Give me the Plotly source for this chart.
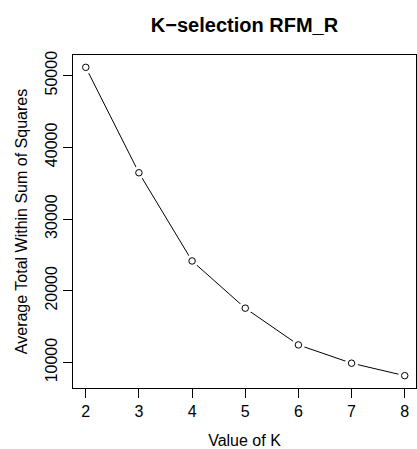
import plotly.graph_objects as go

# Elbow curve for k-means on the RFM_R data
k_values = [2, 3, 4, 5, 6, 7, 8]
avg_wss = [51150, 36450, 24150, 17570, 12450, 9900, 8160]
y_ticks = [10000, 20000, 30000, 40000, 50000]
x_ticks = [2, 3, 4, 5, 6, 7, 8]

title_text = "K\u2212selection RFM_R"
x_title = "Value of K"
y_title = "Average Total Within Sum of Squares"

FONT = "Liberation Sans, Arial, Helvetica, sans-serif"

# base-graphics style 4% padding on each axis
ymin, ymax = min(avg_wss), max(avg_wss)
ypad = 0.04 * (ymax - ymin)
xmin, xmax = min(k_values), max(k_values)
xpad = 0.04 * (xmax - xmin)

W, H = 417, 449
L, T, B = 72.5, 55, 58.3
# the padded x range runs slightly past the right edge of the page
full_width = 418.5 - L
x_lo = xmin - xpad
x_hi = x_lo + (xmax - xmin + 2 * xpad) * (W - L) / full_width

fig = go.Figure()

# connecting line
fig.add_trace(go.Scatter(x=k_values, y=avg_wss, mode="lines",
                         line=dict(color="black", width=1), hoverinfo="skip"))
# white discs leave a gap between the line and each point
fig.add_trace(go.Scatter(x=k_values, y=avg_wss, mode="markers",
                         marker=dict(symbol="circle", size=13, color="white",
                                     line=dict(width=0)), hoverinfo="skip"))
# open circles
fig.add_trace(go.Scatter(x=k_values, y=avg_wss, mode="markers",
                         marker=dict(symbol="circle-open", size=6.5, color="black",
                                     line=dict(width=1, color="black"))))

axis_common = dict(showgrid=False, zeroline=False, showline=True, mirror=True,
                   linecolor="black", linewidth=1, ticks="outside", ticklen=9,
                   tickwidth=1, tickcolor="black",
                   tickfont=dict(family=FONT, size=16, color="black"),
                   title_font=dict(family=FONT, size=16, color="black"))

fig.update_xaxes(range=[x_lo, x_hi], tickvals=x_ticks,
                 ticktext=[str(v) for v in x_ticks],
                 title_text=x_title, title_standoff=18, **axis_common)
fig.update_yaxes(range=[ymin - ypad, ymax + ypad], tickvals=y_ticks,
                 ticktext=[str(v) for v in y_ticks], tickangle=-90,
                 title_text=y_title, title_standoff=10, **axis_common)

fig.update_layout(
    width=W, height=H,
    margin=dict(l=L, r=0, t=T, b=B, pad=0),
    paper_bgcolor="white", plot_bgcolor="white",
    showlegend=False,
    title=dict(text="<b>" + title_text + "</b>", x=0.5, xanchor="center",
               xref="paper", yref="container", y=1 - 24.5 / H, yanchor="middle",
               font=dict(family=FONT, size=20, color="black")),
)

fig.write_html("out.html")
